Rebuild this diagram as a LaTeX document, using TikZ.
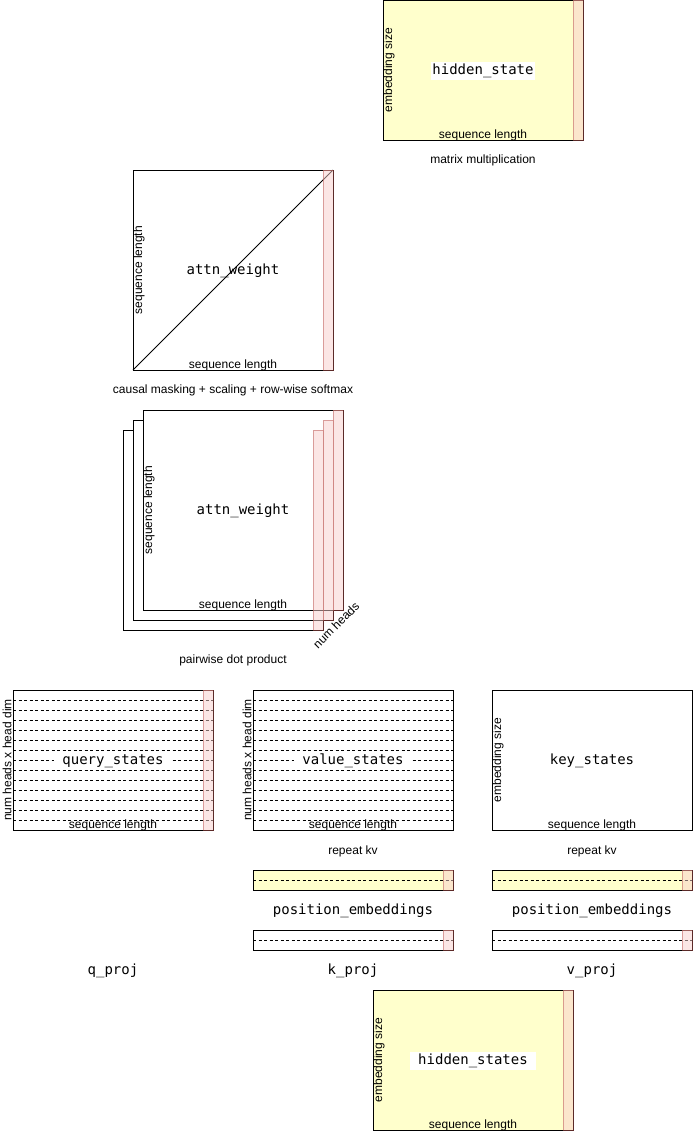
\documentclass[tikz,border=0pt]{standalone}
\usepackage{fontspec}
\setsansfont{Liberation Sans}
\setmonofont{DejaVu Sans Mono}
\definecolor{yelc}{HTML}{FFFFCC}
\definecolor{stripf}{HTML}{F8CECC}
\definecolor{stripd}{HTML}{B85450}
\begin{document}
\begin{tikzpicture}[x=1pt,y=-1pt,
  mat/.style={draw=black, line width=0.8pt, fill=white},
  ymat/.style={draw=black, line width=0.8pt, fill=yelc},
  strip/.style={draw=stripd, fill=stripf, opacity=0.5, line width=0.8pt},
  dsh/.style={line width=0.7pt, dash pattern=on 3pt off 2.5pt},
  lbl/.style={font=\fontsize{12}{14}\selectfont\sffamily, inner sep=0pt},
  mono/.style={font=\fontsize{14}{16}\selectfont\ttfamily, inner sep=0pt, anchor=base},
  monobg/.style={mono, fill=white, inner xsep=8pt, inner ysep=2pt, text height=11pt, text depth=3pt},
]
\useasboundingbox (0,0) rectangle (693,1133);

% ---------- top hidden_state ----------
\draw[ymat] (383,0) rectangle (583,140);
\node[monobg, inner xsep=1pt] (hs1) at (483,74.5) {hidden\_state};
\node[lbl, rotate=90] (hs1e) at (389,70) {embedding size};
\node[lbl, anchor=base] (hs1s) at (483,138.5) {sequence length};
\draw[strip] (573,0) rectangle (583,140);
\node[lbl] (cap1) at (483,160.5) {matrix multiplication};

% ---------- causal attn_weight ----------
\draw[mat] (133,170) rectangle (333,370);
\draw[line width=0.8pt] (133,370) -- (333,170);
\node[mono] (aw1) at (233,274.5) {attn\_weight};
\node[lbl, rotate=90] (aw1e) at (139,270) {sequence length};
\node[lbl, anchor=base] (aw1s) at (233,368.5) {sequence length};
\draw[strip] (323,170) rectangle (333,370);
\node[lbl] (cap2) at (233,390.5) {causal masking + scaling + row-wise softmax};

% ---------- stacked attn_weight ----------
\draw[mat] (123,430) rectangle (323,630);
\draw[mat] (133,420) rectangle (333,620);
\draw[mat] (143,410) rectangle (343,610);
\draw[strip] (313,430) rectangle (323,630);
\draw[strip] (323,420) rectangle (333,620);
\draw[strip] (333,410) rectangle (343,610);
\node[mono] (aw2) at (243,514.5) {attn\_weight};
\node[lbl, rotate=90] (aw2e) at (149,510) {sequence length};
\node[lbl, anchor=base] (aw2s) at (243,608.5) {sequence length};
\node[lbl, rotate=45] (nh) at (336,625) {num heads};
\node[lbl] (cap3) at (233,660.5) {pairwise dot product};

% ---------- query_states ----------
\draw[mat] (13,690) rectangle (213,830);
\foreach \yy in {700,710,...,820} \draw[dsh] (13,\yy) -- (213,\yy);
\node[monobg] (qs) at (113,764.5) {query\_states};
\node[lbl, rotate=90, fill=white, inner ysep=1pt] (qse) at (7,760) {num heads x head dim};
\node[lbl, anchor=base] (qss) at (113,828.5) {sequence length};
\draw[strip] (203,690) rectangle (213,830);

% ---------- value_states ----------
\draw[mat] (253,690) rectangle (453,830);
\foreach \yy in {700,710,...,820} \draw[dsh] (253,\yy) -- (453,\yy);
\node[monobg] (vs) at (353,764.5) {value\_states};
\node[lbl, rotate=90, fill=white, inner ysep=1pt] (vse) at (247,760) {num heads x head dim};
\node[lbl, anchor=base] (vss) at (353,828.5) {sequence length};

% ---------- key_states ----------
\draw[mat] (492,690) rectangle (692,830);
\node[mono] (ks) at (592,764.5) {key\_states};
\node[lbl, rotate=90] (kse) at (498,760) {embedding size};
\node[lbl, anchor=base] (kss) at (592,828.5) {sequence length};

\node[lbl] (rk1) at (353,851.5) {repeat kv};
\node[lbl] (rk2) at (592,851.5) {repeat kv};

% ---------- position embeddings ----------
\draw[ymat] (253,870) rectangle (453,890);
\draw[dsh] (253,880) -- (453,880);
\draw[strip] (443,870) rectangle (453,890);
\draw[ymat] (492,870) rectangle (692,890);
\draw[dsh] (492,880) -- (692,880);
\draw[strip] (682,870) rectangle (692,890);
\node[mono] (pe1) at (353,914.5) {position\_embeddings};
\node[mono] (pe2) at (592,914.5) {position\_embeddings};

% ---------- proj bars ----------
\draw[mat] (253,930) rectangle (453,950);
\draw[dsh] (253,940) -- (453,940);
\draw[strip] (443,930) rectangle (453,950);
\draw[mat] (492,930) rectangle (692,950);
\draw[dsh] (492,940) -- (692,940);
\draw[strip] (682,930) rectangle (692,950);
\node[mono] (qp) at (113,974.5) {q\_proj};
\node[mono] (kp) at (353,974.5) {k\_proj};
\node[mono] (vp) at (592,974.5) {v\_proj};

% ---------- bottom hidden_states ----------
\draw[ymat] (373,990) rectangle (573,1130);
\node[monobg] (hs2) at (473,1064.5) {hidden\_states};
\node[lbl, rotate=90] (hs2e) at (379,1060) {embedding size};
\node[lbl, anchor=base] (hs2s) at (473,1128.5) {sequence length};
\draw[strip] (563,990) rectangle (573,1130);
\end{tikzpicture}
\end{document}
